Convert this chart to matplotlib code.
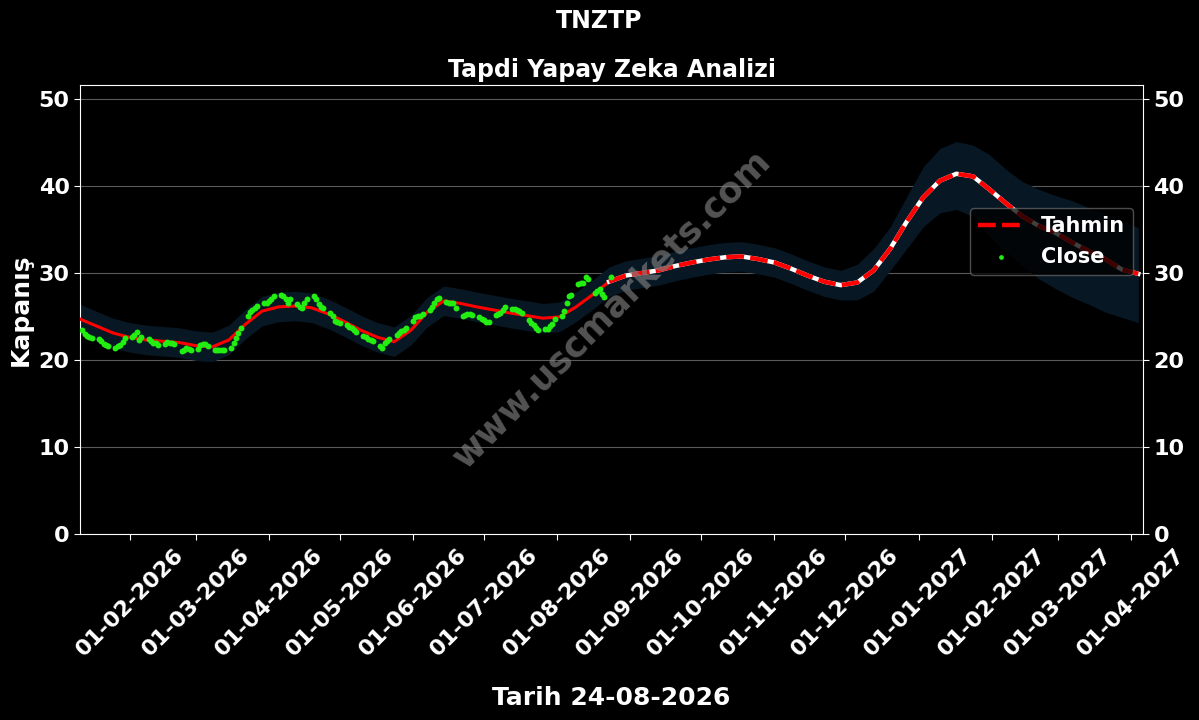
import matplotlib
matplotlib.use("Agg")
import matplotlib.pyplot as plt
import matplotlib.dates as mdates
import pandas as pd
import numpy as np

ticker = "TNZTP"
subtitle = "Tapdi Yapay Zeka Analizi"
xlabel_text = "Tarih 24-08-2026"
ylabel_text = "Kapanış"
watermark = "www.uscmarkets.com"

# Close prices, business days starting 2026-01-12
close_start = "2026-01-12"
close_values = [
    23.5, 23.0, 22.7, 22.6, 22.5,
    22.4, 22.2, 21.8, 21.7, 21.6,
    21.4, 21.6, 21.7, 22.1, 22.5,
    22.6, 22.9, 23.2, 22.3, 22.6,
    22.4, 22.2, 22.0, 21.9, 21.7,
    21.8, 22.1, 22.0, 22.0, 21.8,
    21.0, 21.2, 21.4, 21.3, 21.1,
    21.3, 21.7, 21.8, 21.8, 21.6,
    21.2, 21.1, 21.2, 21.2, 21.1,
    21.4, 22.0, 22.5, 23.1, 23.7,
    25.0, 25.5, 25.8, 26.0, 26.2,
    26.5, 26.6, 26.8, 27.0, 27.4,
    27.5, 27.4, 27.0, 26.6, 27.0,
    26.4, 26.1, 26.0, 26.5, 27.0,
    27.4, 27.0, 26.4, 26.1, 26.0,
    25.4, 25.1, 24.5, 24.4, 24.3,
    24.0, 23.8, 23.7, 23.4, 23.2,
    22.8, 22.6, 22.4, 22.3, 22.2,
    21.6, 21.4, 21.9, 22.2, 22.4,
    22.9, 23.1, 23.3, 23.5, 23.7,
    24.5, 24.9, 25.0, 25.1, 25.3,
    25.7, 26.1, 26.5, 27.0, 27.1,
    26.7, 26.6, 26.5, 26.6, 26.0,
    25.0, 25.2, 25.3, 25.3, 25.2,
    24.9, 24.7, 24.6, 24.4, 24.4,
    25.2, 25.3, 25.4, 25.8, 26.1,
    25.9, 25.9, 25.8, 25.6, 25.4,
    24.6, 24.3, 24.0, 23.7, 23.5,
    23.6, 23.6, 23.9, 24.1, 24.7,
    25.0, 25.6, 26.5, 27.3, 27.5,
    28.7, 28.8, 28.9, 29.5, 29.3,
    27.7, 27.9, 28.1, 27.6, 27.2,
    29.5,
]

# Model line and band, weekly from 2026-01-11
model_start = "2026-01-11"
yhat = [24.7, 23.9, 23.1, 22.6, 22.3, 22.15, 22.0, 21.65, 21.5, 22.3,
        24.1, 25.6, 26.1, 26.2, 26.0, 25.3, 24.4, 23.4, 22.6, 22.1,
        23.4, 25.5, 26.8, 26.5, 26.1, 25.75, 25.4, 25.1, 24.8, 24.95,
        26.1, 27.5, 29.0, 29.7, 30.0, 30.3, 30.8, 31.2, 31.55, 31.8,
        31.9, 31.6, 31.2, 30.5, 29.7, 29.0, 28.6, 28.9, 30.3, 32.8,
        35.9, 38.7, 40.6, 41.4, 41.1, 39.6, 38.0, 36.5, 35.4, 34.6,
        33.5, 32.5, 31.6, 30.4, 29.9]
upper = [26.4, 25.6, 24.8, 24.3, 24.0, 23.85, 23.7, 23.35, 23.2, 24.0,
         25.8, 27.3, 27.8, 27.9, 27.7, 27.0, 26.1, 25.1, 24.3, 23.8,
         25.1, 27.2, 28.5, 28.2, 27.8, 27.45, 27.1, 26.8, 26.5, 26.65,
         27.8, 29.2, 30.7, 31.4, 31.7, 32.0, 32.5, 32.9, 33.25, 33.5,
         33.6, 33.3, 32.9, 32.2, 31.4, 30.7, 30.3, 31.0, 32.8, 35.3,
         38.8, 42.2, 44.3, 45.1, 44.7, 43.6, 41.9, 40.5, 39.6, 38.9,
         38.3, 37.5, 36.8, 36.0, 35.2]
lower = [23.0, 22.2, 21.4, 20.9, 20.6, 20.45, 20.3, 19.95, 19.8, 20.6,
         22.4, 23.9, 24.4, 24.5, 24.3, 23.6, 22.7, 21.7, 20.9, 20.4,
         21.7, 23.8, 25.1, 24.8, 24.4, 24.05, 23.7, 23.4, 23.1, 23.25,
         24.4, 25.8, 27.3, 28.0, 28.3, 28.6, 29.1, 29.5, 29.85, 30.1,
         30.2, 29.9, 29.5, 28.8, 28.0, 27.3, 26.9, 26.9, 27.9, 30.3,
         32.8, 35.3, 36.9, 37.3, 36.5, 34.2, 32.4, 30.8, 29.3, 28.2,
         27.2, 26.4, 25.5, 24.9, 24.3]
split_index = 32  # forecast starts here

yticks = [0, 10, 20, 30, 40, 50]

close_dates = pd.bdate_range(close_start, periods=len(close_values))
model_dates = pd.date_range(model_start, periods=len(yhat), freq="7D")

plt.rcParams['font.family'] = ['DejaVu Sans']
fig = plt.figure(figsize=(11.99, 7.2), dpi=100, facecolor="black")
ax = fig.add_axes([80/1199, 1-534/720, (1143-80)/1199, (534-85)/720])
ax.set_facecolor("black")

ax.fill_between(model_dates, lower, upper, color="#071723", zorder=1, linewidth=0)
ax.plot(model_dates[:split_index+1], yhat[:split_index+1], color="red", lw=2.2, zorder=3)
ax.plot(model_dates[split_index:], yhat[split_index:], color="white", lw=3.2, zorder=3)
ax.plot(model_dates[split_index:], yhat[split_index:], color="red", lw=3.2,
        dashes=(4, 1.4), zorder=4, label="Tahmin")
ax.scatter(close_dates, close_values, s=18, color="#22ee11", zorder=5, label="Close",
           linewidths=0)

ax.set_xlim(model_dates[0], model_dates[-1] + pd.Timedelta(days=2))
ax.set_ylim(0, 51.6)
ax.set_yticks(yticks)
ax.grid(axis="y", color="#5a5a5a", lw=0.8)
ax.set_axisbelow(True)

ax.xaxis.set_major_locator(mdates.MonthLocator(bymonthday=1))
ax.xaxis.set_major_formatter(mdates.DateFormatter("%d-%m-%Y"))
for s in ax.spines.values():
    s.set_color("white")
ax.tick_params(axis="both", colors="white", labelsize=16, length=4)
ax.tick_params(axis="y", right=True, labelright=True)
for lab in ax.get_xticklabels() + ax.get_yticklabels():
    lab.set_fontweight("bold")
for lab in ax.get_xticklabels():
    lab.set_rotation(45)
    lab.set_ha("center")
for t in ax.yaxis.get_major_ticks():
    t.label2.set_fontweight("bold")
    t.label2.set_color("white")

ax.set_title(subtitle, color="white", fontsize=17, fontweight="bold", pad=6)
fig.suptitle(ticker, color="white", fontsize=17, fontweight="bold", y=0.988)
ax.set_xlabel(xlabel_text, color="white", fontsize=18, fontweight="bold", labelpad=19)
ax.set_ylabel(ylabel_text, color="white", fontsize=18, fontweight="bold", labelpad=4)

ax.text(0.5, 0.5, watermark, transform=ax.transAxes, rotation=45, ha="center",
        va="center", fontsize=25.5, fontweight="bold", color="#808080", alpha=0.65, zorder=6)

leg = ax.legend(loc="upper right", bbox_to_anchor=(0.9906, 0.726), borderaxespad=0,
                facecolor="black", edgecolor="#666666", framealpha=0.75,
                prop={"size": 15, "weight": "bold"}, labelcolor="white",
                markerscale=0.8, handlelength=2.2)

fig.savefig("out.png", dpi=100, facecolor="black")
